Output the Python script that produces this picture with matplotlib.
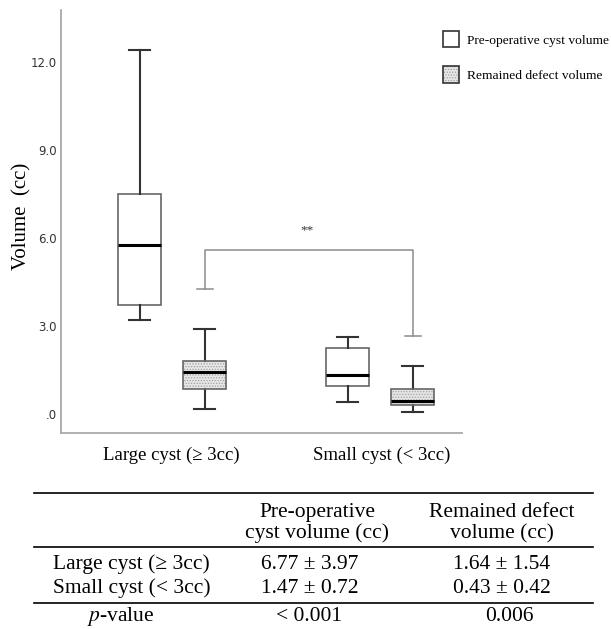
import matplotlib
matplotlib.use('Agg')
import matplotlib.pyplot as plt
import matplotlib.patches as mpatches
from matplotlib.lines import Line2D

plt.rcParams['font.family'] = ['Liberation Serif', 'DejaVu Serif']
plt.rcParams['mathtext.fontset'] = 'stix'
plt.rcParams['hatch.linewidth'] = 0.6

# box plot values
groups = ['Large cyst (\u2265 3cc)', 'Small cyst (< 3cc)']
pre_whislo = [3.20, 0.41]
pre_q1 = [3.74, 0.98]
pre_med = [5.77, 1.33]
pre_q3 = [7.50, 2.26]
pre_whishi = [12.42, 2.65]

rem_whislo = [0.19, 0.08]
rem_q1 = [0.85, 0.33]
rem_med = [1.43, 0.44]
rem_q3 = [1.83, 0.85]
rem_whishi = [2.92, 1.66]

# significance bracket
bracket_top = 5.60
bracket_ends = [4.26, 2.67]

yticks = [0, 3, 6, 9, 12]
ytick_labels = ['.0', '3.0', '6.0', '9.0', '12.0']

# table below the chart
col_headers = [['Pre-operative', 'cyst volume (cc)'], ['Remained defect', 'volume (cc)']]
row_labels = ['Large cyst (\u2265 3cc)', 'Small cyst (< 3cc)', '$p$-value']
pre_cells = ['6.77 \u00b1 3.97', '1.47 \u00b1 0.72', '< 0.001']
rem_cells = ['1.64 \u00b1 1.54', '0.43 \u00b1 0.42', '0.006']

W, H = 611, 629
fig = plt.figure(figsize=(W / 100, H / 100), dpi=100)

def fx(x):
    return x / W

def fy(y):
    return 1 - y / H

ax = fig.add_axes([fx(61.3), fy(432.7), fx(462) - fx(61.3), fy(10) - fy(432.7)])

off = 0.157
pos_pre = [i - off for i in range(len(groups))]
pos_rem = [i + off for i in range(len(groups))]

def stats(lo, q1, med, q3, hi):
    return [dict(whislo=lo[i], q1=q1[i], med=med[i], q3=q3[i], whishi=hi[i], fliers=[])
            for i in range(len(lo))]

common = dict(widths=0.207, capwidths=0.10, patch_artist=True, showfliers=False,
              whiskerprops=dict(color='#333333', lw=1.5),
              capprops=dict(color='#333333', lw=1.5),
              medianprops=dict(color='black', lw=2.2))

b1 = ax.bxp(stats(pre_whislo, pre_q1, pre_med, pre_q3, pre_whishi), positions=pos_pre,
            boxprops=dict(facecolor='white', edgecolor='#666666', lw=1.2), **common)
b2 = ax.bxp(stats(rem_whislo, rem_q1, rem_med, rem_q3, rem_whishi), positions=pos_rem,
            boxprops=dict(facecolor='#e6e6e6', edgecolor='#a0a0a0', lw=0, hatch='......'), **common)
for box in b2['boxes']:
    ax.add_patch(mpatches.PathPatch(box.get_path(), transform=box.get_transform(),
                                    fill=False, edgecolor='#666666', lw=1.2, zorder=box.get_zorder() + 0.1))
for m in b2['medians']:
    m.set_zorder(5)

# bracket with caps
bx = pos_rem
ax.plot([bx[0], bx[0], bx[1], bx[1]], [bracket_ends[0], bracket_top, bracket_top, bracket_ends[1]],
        color='#8c8c8c', lw=1.1)
for x, y in zip(bx, bracket_ends):
    ax.plot([x - 0.038, x + 0.038], [y, y], color='#8c8c8c', lw=1.1)
ax.text((bx[0] + bx[1]) / 2 - 0.01, bracket_top + 0.68, '**', ha='center', va='center',
        fontsize=9.5, color='#333333')

ax.set_xlim(-0.533, 1.393)
ax.set_ylim(-0.627, 13.78)
ax.set_yticks(yticks)
ax.set_yticklabels(ytick_labels, family=['Liberation Sans Narrow', 'DejaVu Sans'],
                   fontsize=8.5, color='#333333')
ax.tick_params(axis='y', length=0, pad=3)
ax.set_xticks([])
for s in ['top', 'right']:
    ax.spines[s].set_visible(False)
ax.spines['left'].set_color('#999999')
ax.spines['bottom'].set_color('#aaaaaa')
ax.spines['left'].set_linewidth(1.1)
ax.spines['bottom'].set_linewidth(1.3)

for i, g in enumerate(groups):
    fig.text(fx([171.5, 381.5][i]), fy(460), g, ha='center', va='baseline', fontsize=13.5)

fig.text(fx(22), fy(216), 'Volume  (cc)', rotation=90, ha='center', va='center', fontsize=15)

# legend
h_pre = mpatches.Patch(facecolor='white', edgecolor='#333333', lw=1.2)
h_rem = (mpatches.Patch(facecolor='#e6e6e6', edgecolor='#a0a0a0', lw=0, hatch='......'),
         mpatches.Patch(fill=False, edgecolor='#333333', lw=1.2))
fig.legend([h_pre, h_rem], ['Pre-operative cyst volume', 'Remained defect volume'],
           loc='upper left', bbox_to_anchor=(fx(443), fy(31)), frameon=False, fontsize=9.7,
           handlelength=1.2, handleheight=1.5, labelspacing=1.4, handletextpad=0.55,
           borderpad=0, borderaxespad=0)

# table
fs = 15.5
for y in [492.7, 546.7, 603.3]:
    fig.add_artist(Line2D([fx(34), fx(593)], [fy(y), fy(y)], transform=fig.transFigure,
                          color='black', lw=1.2))
for j, hdr in enumerate(col_headers):
    cx = [317, 501.5][j]
    fig.text(fx(cx), fy(517), hdr[0], ha='center', va='baseline', fontsize=fs)
    fig.text(fx(cx), fy(538), hdr[1], ha='center', va='baseline', fontsize=fs)
row_y = [569, 593, 621]
row_x = [131.5, 131.5, 121]
for i in range(len(row_labels)):
    fig.text(fx(row_x[i]), fy(row_y[i]), row_labels[i], ha='center', va='baseline', fontsize=fs)
    fig.text(fx(309.5), fy(row_y[i]), pre_cells[i], ha='center', va='baseline', fontsize=fs)
    fig.text(fx([501.5, 501.5, 509][i]), fy(row_y[i]), rem_cells[i], ha='center', va='baseline',
             fontsize=fs)

fig.savefig('out.png', dpi=100, facecolor='white')
